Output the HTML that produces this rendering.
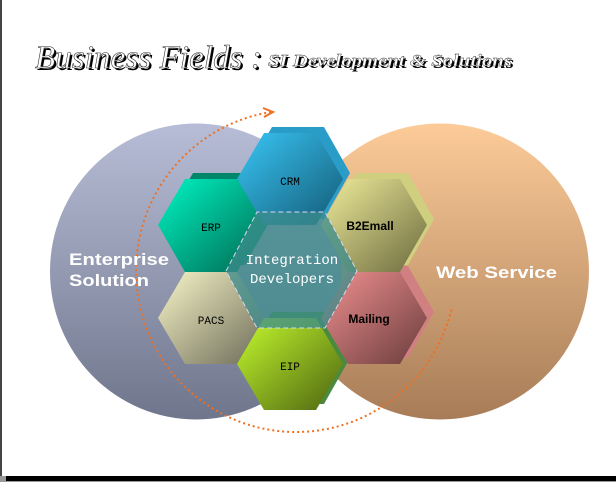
<!DOCTYPE html>
<html><head><style>
html,body{margin:0;padding:0;background:#fff}
svg{display:block}
</style></head><body>
<svg width="616" height="482" viewBox="0 0 616 482" xmlns="http://www.w3.org/2000/svg">
<defs>
<linearGradient id="gl" x1="0" y1="0" x2="0" y2="1"><stop offset="0" stop-color="#b7bdd6"/><stop offset="1" stop-color="#6f768c"/></linearGradient>
<linearGradient id="gr" x1="0" y1="0" x2="0" y2="1"><stop offset="0" stop-color="#fccb98"/><stop offset="1" stop-color="#a77c57"/></linearGradient>
<linearGradient id="crm" x1="0" y1="0" x2="1" y2="1"><stop offset="0" stop-color="#39c6f6"/><stop offset="1" stop-color="#135a75"/></linearGradient>
<linearGradient id="erp" x1="0" y1="0" x2="1" y2="1"><stop offset="0" stop-color="#00f5c4"/><stop offset="1" stop-color="#006850"/></linearGradient>
<linearGradient id="b2e" x1="0" y1="0" x2="1" y2="1"><stop offset="0" stop-color="#f1ee9c"/><stop offset="1" stop-color="#6c6a3e"/></linearGradient>
<linearGradient id="pacs" x1="0" y1="0" x2="1" y2="1"><stop offset="0" stop-color="#f8f6c8"/><stop offset="1" stop-color="#6c6b58"/></linearGradient>
<linearGradient id="mail" x1="0" y1="0" x2="1" y2="1"><stop offset="0" stop-color="#f29191"/><stop offset="1" stop-color="#6a3c3c"/></linearGradient>
<linearGradient id="eip" x1="0" y1="0" x2="1" y2="1"><stop offset="0" stop-color="#c6fb2e"/><stop offset="1" stop-color="#4c6410"/></linearGradient>
</defs>
<rect x="0" y="0" width="616" height="482" fill="#fff"/>
<rect x="0" y="0" width="2" height="482" fill="#444"/>
<rect x="0" y="476" width="616" height="5" fill="#000"/>
<rect x="0" y="476" width="6" height="6" fill="#999"/>
<rect x="0" y="481" width="616" height="1" fill="#999"/>
<ellipse cx="440" cy="271.5" rx="149" ry="148" fill="url(#gr)"/>
<ellipse cx="196" cy="271.5" rx="146" ry="148" fill="url(#gl)"/>
<g font-family="Liberation Serif, serif" font-style="italic">
<text x="37" y="70" font-size="33" fill="#000" textLength="227" lengthAdjust="spacing">Business Fields :</text>
<text x="35" y="68" font-size="33" fill="#fff" stroke="#333" stroke-width="0.6" textLength="227" lengthAdjust="spacing">Business Fields :</text>
<text x="270" y="68" font-size="17" font-weight="bold" fill="#000" textLength="244" lengthAdjust="spacingAndGlyphs">SI Development &amp; Solutions</text>
<text x="268" y="66" font-size="17" font-weight="bold" fill="#fff" stroke="#333" stroke-width="0.4" textLength="244" lengthAdjust="spacingAndGlyphs">SI Development &amp; Solutions</text>
</g>
<path d="M271 112 A160 161 0 1 0 452 307" fill="none" stroke="#f07020" stroke-width="2" stroke-dasharray="2 3"/>
<path d="M263 108 L273 112 L264 117" fill="none" stroke="#f07020" stroke-width="2"/>
<g font-family="Liberation Sans, sans-serif" font-weight="bold" font-size="17" fill="#fff">
<text x="69" y="265" textLength="100" lengthAdjust="spacingAndGlyphs">Enterprise</text><text x="69" y="286" textLength="80" lengthAdjust="spacingAndGlyphs">Solution</text>
<text x="436" y="278" textLength="121" lengthAdjust="spacingAndGlyphs">Web Service</text>
</g>
<g>
<polygon points="245,173 272,127 324,127 350,173 324,219 272,219" fill="#2a9cc8"/>
<polygon points="166,219 193,173 245,173 271,219 245,265 193,265" fill="#00866a"/>
<polygon points="329,219 356,173 408,173 434,219 408,265 356,265" fill="#d0cf80"/>
<polygon points="329,312 356,266 408,266 434,312 408,358 356,358" fill="#d08080"/>
<polygon points="245,358 272,312 324,312 350,358 324,404 272,404" fill="#4a8a40"/>
<polygon points="237,179 264,133 316,133 343,179 316,225 264,225" fill="url(#crm)"/>
<polygon points="158,225 185,179 237,179 264,225 237,272 185,272" fill="url(#erp)"/>
<polygon points="321,225 348,179 400,179 427,225 400,272 348,272" fill="url(#b2e)"/>
<polygon points="158,318 185,272 237,272 264,318 237,364 185,364" fill="url(#pacs)"/>
<polygon points="321,318 348,272 400,272 427,318 400,364 348,364" fill="url(#mail)"/>
<polygon points="237,364 264,318 316,318 343,364 316,410 264,410" fill="url(#eip)"/>
</g>
<polygon points="226,271 257,212 325,212 357,271 325,328 257,328" fill="#3c8c8c" fill-opacity="0.75" stroke="#d8d8f0" stroke-dasharray="5 3"/>
<g font-family="Liberation Mono, monospace" font-size="11" fill="#000" text-anchor="middle">
<text x="290" y="185">CRM</text>
<text x="211" y="231">ERP</text>
<text x="211" y="324">PACS</text>
<text x="290" y="370">EIP</text>
</g>
<g font-family="Liberation Sans, sans-serif" font-weight="bold" font-size="12" fill="#000" text-anchor="middle">
<text x="370" y="230">B2Emall</text>
<text x="369" y="323">Mailing</text>
</g>
<g font-family="Liberation Mono, monospace" font-size="14" fill="#fff" text-anchor="middle">
<text x="292" y="264">Integration</text>
<text x="292" y="283">Developers</text>
</g>
</svg>
</body></html>
